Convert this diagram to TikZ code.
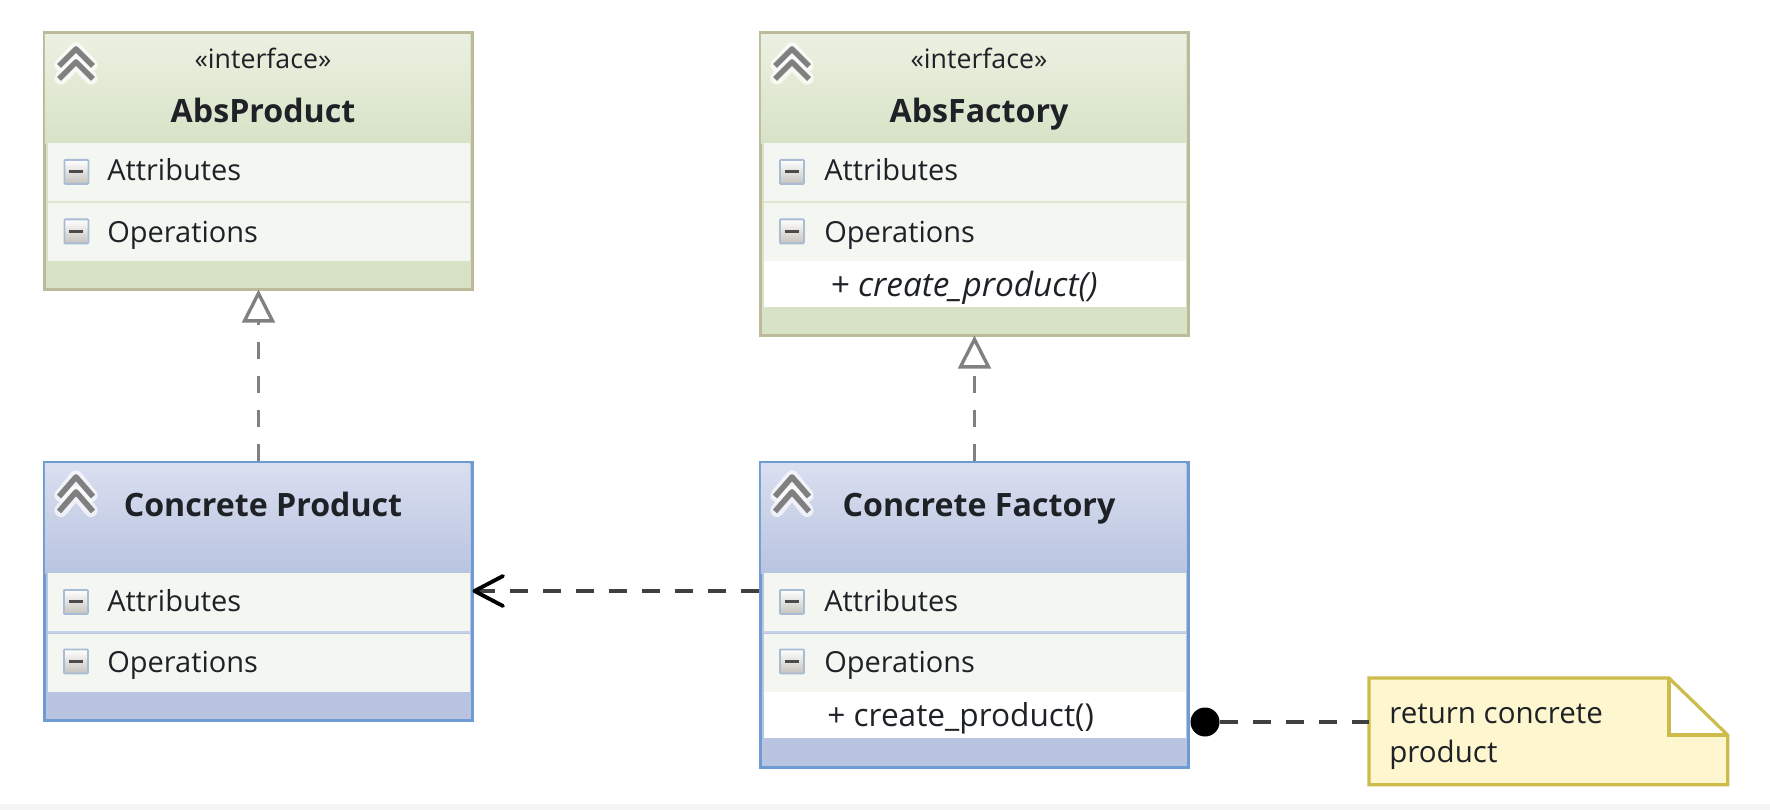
\documentclass[tikz,border=0pt]{standalone}
\usepackage{fontspec}
\setmainfont{Open Sans}
\usetikzlibrary{arrows.meta}
\definecolor{greenedge}{HTML}{BDB99B}
\definecolor{greentop}{HTML}{EBF1E1}
\definecolor{greenbot}{HTML}{D8E2C7}
\definecolor{greenline}{HTML}{DEE6D2}
\definecolor{blueedge}{HTML}{6E9BD2}
\definecolor{bluetop}{HTML}{DADFF0}
\definecolor{bluebot}{HTML}{B9C4E0}
\definecolor{blueline}{HTML}{C5D2E8}
\definecolor{compfill}{HTML}{F3F6F1}
\definecolor{notefill}{HTML}{FDF6CE}
\definecolor{noteedge}{HTML}{CDBB4B}
\definecolor{textcol}{HTML}{1E2226}
\definecolor{minusedge}{HTML}{A9BCD6}
\definecolor{minusbot}{HTML}{C6C3BC}
\tikzset{
  absbox/.style={anchor=north west,draw=greenedge,line width=1.9pt,fill=greenbot,minimum width=428.6*0.02cm,inner sep=0pt},
  concbox/.style={anchor=north west,draw=blueedge,line width=1.9pt,fill=bluebot,minimum width=428.6*0.02cm,inner sep=0pt},
  abshead/.style={anchor=north west,top color=greentop,bottom color=greenbot,minimum width=425*0.02cm,minimum height=109*0.02cm,inner sep=0pt},
  conchead/.style={anchor=north west,top color=bluetop,bottom color=bluebot,minimum width=425*0.02cm,minimum height=109*0.02cm,inner sep=0pt},
  comp/.style={anchor=north west,fill=compfill,minimum width=422*0.02cm,minimum height=58*0.02cm,inner sep=0pt},
  oprow/.style={anchor=north west,fill=white,minimum width=422*0.02cm,minimum height=46*0.02cm,inner sep=0pt},
  label/.style={anchor=base west,inner sep=0pt,text=textcol,font=\fontsize{16.5pt}{19pt}\selectfont},
  methrow/.style={anchor=base west,inner sep=0pt,text=textcol,font=\fontsize{18pt}{21pt}\selectfont},
  stereo/.style={anchor=base,inner sep=0pt,text=textcol,font=\fontsize{15.2pt}{18pt}\selectfont},
  title/.style={anchor=base,inner sep=0pt,text=textcol,font=\fontsize{18.3pt}{22pt}\selectfont\bfseries},
  minusbox/.style={anchor=north west,draw=minusedge,line width=1pt,top color=white,bottom color=minusbot,minimum size=24*0.02cm,inner sep=0pt,rounded corners=0.5pt},
  impl/.style={draw=black!50,line width=1.7pt,dash pattern=on 17*0.02cm off 17*0.02cm},
  hollow/.style={draw=black!50,fill=white,line width=1.9pt,line join=miter},
  depend/.style={draw=black!75,line width=2pt,dash pattern=on 18*0.02cm off 15*0.02cm},
  pics/chevrons/.style={code={
    \foreach \dy in {0,13}{
      \draw[white,line width=7.5pt,opacity=.7,line cap=round,line join=round] (-15,\dy+16) -- (0,\dy) -- (15,\dy+16);
    }
    \foreach \dy in {0,13}{
      \draw[black!50,line width=3.2pt,line join=round] (-17,\dy+17) -- (0,\dy) -- (17,\dy+17);
    }
  }},
}
\begin{document}
\begin{tikzpicture}[x=0.02cm,y=-0.02cm]
\useasboundingbox (0,0) rectangle (1770,810);
\fill[white] (0,0) rectangle (1770,810);
\fill[black!4] (0,804) rectangle (1770,810);

% interface boxes
\node[absbox,minimum height=257*0.02cm] (absprod) at (42.5,31) {};
\node[absbox,minimum height=303*0.02cm] (absfac) at (758.5,31) {};
% concrete boxes
\node[concbox,minimum height=258*0.02cm] (conprod) at (42.5,461) {};
\node[concbox,minimum height=304.5*0.02cm] (confac) at (758.5,461) {};

% title bands
\node[abshead] (absprodhead) at (44.5,34) {};
\node[abshead] (absfachead) at (760.5,34) {};
\node[conchead,minimum height=110*0.02cm] (conprodhead) at (44.5,463) {};
\node[conchead,minimum height=110*0.02cm] (confachead) at (760.5,463) {};

% compartments
\node[comp] (absprodattr) at (47.5,143) {};
\node[comp] (absprodop) at (47.5,203) {};
\node[comp] (absfacattr) at (763.5,143) {};
\node[comp] (absfacop) at (763.5,203) {};
\node[oprow] (absfacrow) at (763.5,261) {};
\node[comp] (conprodattr) at (47.5,573) {};
\node[comp] (conprodop) at (47.5,634) {};
\node[comp] (confacattr) at (763.5,573) {};
\node[comp] (confacop) at (763.5,634) {};
\node[oprow] (confacrow) at (763.5,692) {};

% lines between compartments
\draw[greenline,line width=1.2pt] (absprodattr.south west) -- (absprodattr.south east);
\draw[greenline,line width=1.2pt] (absfacattr.south west) -- (absfacattr.south east);
\draw[blueline,line width=1.2pt] (conprodattr.south west) -- (conprodattr.south east);
\draw[blueline,line width=1.2pt] (confacattr.south west) -- (confacattr.south east);

% collapse icons
\pic at (76,49) {chevrons};
\pic at (792,49) {chevrons};
\pic[yscale=1.15] at (76,477) {chevrons};
\pic[yscale=1.15] at (792,477) {chevrons};

% minus icons
\foreach \name/\ix/\iy in {mpa/63.5/159,mpo/63.5/218.5,mfa/779/159,mfo/779/218.5,mca/63/589,mco/63/648.5,mda/779/589,mdo/779/648.5}{
  \node[minusbox] (\name) at (\ix,\iy) {};
  \draw[black!70,line width=1.6pt] ([xshift=-7*0.02cm]\name.center) -- ([xshift=7*0.02cm]\name.center);
}

% texts
\node[stereo] (ifprod) at (263,69) {«interface»};
\node[stereo] (iffac) at (979,69) {«interface»};
\node[title] (tprod) at (263,123) {AbsProduct};
\node[title] (tfac) at (979,123) {AbsFactory};
\node[title] (tcprod) at (263,516) {Concrete Product};
\node[title] (tcfac) at (979,516) {Concrete Factory};
\foreach \name/\ix/\iy/\txt in {la/107/181/Attributes,lb/107/243/Operations,lc/824/181/Attributes,ld/824/243/Operations,le/107/611/Attributes,lf/107/672/Operations,lg/824/611/Attributes,lh/824/672/Operations}{
  \node[label] (\name) at (\ix,\iy) {\txt};
}
\node[methrow,font=\fontsize{19pt}{22pt}\selectfont\itshape] (absmeth) at (830,297) {+ create\_product()};
\node[methrow] (conmeth) at (827,726) {+ create\_product()};

% realization arrows
\coordinate (baseprod) at ([yshift=-29.5*0.02cm]absprod.south);
\coordinate (basefac) at ([yshift=-29.5*0.02cm]absfac.south);
\draw[impl] (conprod.north) -- (baseprod);
\draw[impl] (confac.north) -- (basefac);
\draw[hollow] (baseprod) ++(-14,0) -- ++(28,0) -- ++(-14,-27.5) -- cycle;
\draw[hollow] (basefac) ++(-14,0) -- ++(28,0) -- ++(-14,-27.5) -- cycle;

% dependency
\coordinate (depstart) at (759,591);
\draw[depend] (depstart) -- (conprod.east |- depstart);
\draw[black,line width=2.2pt,line cap=round,line join=round] (503,576) -- (conprod.east |- depstart) -- (503,606);

% note
\node[anchor=north west,minimum width=358*0.02cm,minimum height=106*0.02cm,inner sep=0pt] (note) at (1369,678) {};
\fill[notefill] (note.north west) -- (1669,678) -- (note.east |- 0,735) -- (note.south east) -- (note.south west) -- cycle;
\fill[white] (1669,678) -- (note.east |- 0,735) -- (1669,735) -- cycle;
\draw[noteedge,line width=1.8pt,line join=miter] (note.north west) -- (1669,678) -- (note.east |- 0,735) -- (note.south east) -- (note.south west) -- cycle;
\draw[noteedge,line width=1.8pt] (1669,678) -- (1669,735) -- (note.east |- 0,735);
\node[label,font=\fontsize{16.8pt}{20pt}\selectfont] (notea) at (1389,723) {return concrete};
\node[label,font=\fontsize{16.8pt}{20pt}\selectfont] (noteb) at (1389,762) {product};

% note link
\node[circle,fill=black,minimum size=29*0.02cm,inner sep=0pt] (dot) at (1205,722) {};
\draw[depend] (dot) -- (note.west |- dot);
\end{tikzpicture}
\end{document}
